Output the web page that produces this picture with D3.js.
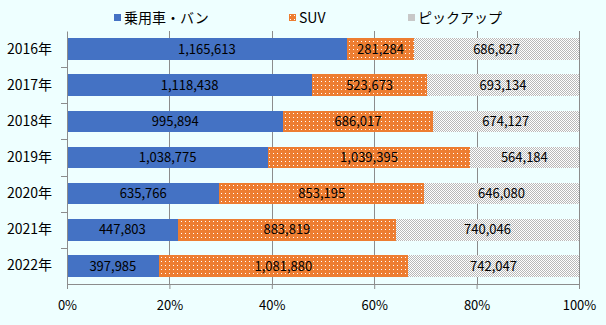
<!DOCTYPE html>
<html>
<head>
<meta charset="utf-8">
<script src="https://cdn.jsdelivr.net/npm/d3@7"></script>
<style>
  body { margin: 0; background: #eeffff; }
  svg text { font-family: "Noto Sans CJK JP", "Noto Sans", sans-serif; }
</style>
</head>
<body>
<svg id="chart"></svg>
<script>
// chart data
var years = ["2016年", "2017年", "2018年", "2019年", "2020年", "2021年", "2022年"];
var seriesNames = ["乗用車・バン", "SUV", "ピックアップ"];
var passenger = [1165613, 1118438, 995894, 1038775, 635766, 447803, 397985];
var suv = [281284, 523673, 686017, 1039395, 853195, 883819, 1081880];
var pickup = [686827, 693134, 674127, 564184, 646080, 740046, 742047];
var xTicks = [0, 0.2, 0.4, 0.6, 0.8, 1];

var width = 606, height = 325;
var margins = { top: 31, bottom: 41, left: 67, right: 27 };

var svg = d3.select("#chart")
  .attr("width", width)
  .attr("height", height);

svg.append("rect").attr("width", width).attr("height", height).attr("fill", "#eeffff");

var defs = svg.append("defs");

// SUV: orange with sparse white dots
var pSuv = defs.append("pattern").attr("id", "pSuv")
  .attr("width", 4).attr("height", 4).attr("patternUnits", "userSpaceOnUse");
pSuv.append("rect").attr("width", 4).attr("height", 4).attr("fill", "#ed7d31");
pSuv.append("rect").attr("x", 1).attr("y", 1).attr("width", 1).attr("height", 1).attr("fill", "#ffffff");

// pickup: grey checkerboard
var pPick = defs.append("pattern").attr("id", "pPick")
  .attr("width", 2).attr("height", 2).attr("patternUnits", "userSpaceOnUse");
pPick.append("rect").attr("width", 2).attr("height", 2).attr("fill", "#ffffff");
pPick.append("rect").attr("x", 0).attr("y", 0).attr("width", 1).attr("height", 1).attr("fill", "#b8b8b8");
pPick.append("rect").attr("x", 1).attr("y", 1).attr("width", 1).attr("height", 1).attr("fill", "#b8b8b8");

var fills = ["#4472c4", "url(#pSuv)", "url(#pPick)"];
var legendFills = ["#4472c4", "url(#pSuv)", "#c8c8c8"];

var xScale = d3.scaleLinear()
  .domain([0, 1])
  .range([margins.left, width - margins.right]);

var yScale = d3.scaleBand()
  .domain(years)
  .range([margins.top, height - margins.bottom])
  .paddingInner(0.4)
  .paddingOuter(0.2);

// gridlines
svg.append("g")
  .selectAll("line")
  .data(xTicks.slice(1))
  .enter()
  .append("line")
  .attr("x1", function(d){return Math.round(xScale(d)) + 0.5;})
  .attr("x2", function(d){return Math.round(xScale(d)) + 0.5;})
  .attr("y1", margins.top)
  .attr("y2", height - margins.bottom)
  .attr("stroke", "#8c8c8c")
  .attr("stroke-width", 1);

// stacked rows
var rows = years.map(function(y, i) {
  var vals = [passenger[i], suv[i], pickup[i]];
  var total = d3.sum(vals);
  var acc = 0;
  return vals.map(function(v, k) {
    var seg = { year: y, k: k, v: v, x0: acc / total, x1: (acc + v) / total };
    acc += v;
    return seg;
  });
});

var segs = svg.append("g")
  .selectAll("g")
  .data(rows)
  .enter()
  .append("g");

segs.selectAll("rect")
  .data(function(d){return d;})
  .enter()
  .append("rect")
  .attr("x", function(d){return xScale(d.x0);})
  .attr("width", function(d){return xScale(d.x1) - xScale(d.x0);})
  .attr("y", function(d){return yScale(d.year);})
  .attr("height", yScale.bandwidth())
  .attr("fill", function(d){return fills[d.k];})
  .attr("shape-rendering", "crispEdges");

segs.selectAll("text")
  .data(function(d){return d;})
  .enter()
  .append("text")
  .attr("x", function(d){return (xScale(d.x0) + xScale(d.x1)) / 2;})
  .attr("y", function(d){return yScale(d.year) + yScale.bandwidth() / 2;})
  .attr("dy", "0.36em")
  .attr("text-anchor", "middle")
  .attr("font-size", 13)
  .attr("fill", "#000")
  .text(function(d){return d3.format(",")(d.v);});

// axes
var xAxis = d3.axisBottom(xScale)
  .tickValues(xTicks)
  .tickFormat(d3.format(".0%"))
  .tickSize(5)
  .tickSizeOuter(0);

var gx = svg.append("g")
  .attr("transform", "translate(0," + (height - margins.bottom) + ")")
  .call(xAxis);
gx.selectAll("line, path").attr("stroke", "#8c8c8c");
gx.selectAll("text").attr("font-size", 13).attr("fill", "#000").attr("dy", "1.35em")
  .style("font-family", "'Noto Sans CJK JP', sans-serif");

var yAxis = d3.axisLeft(yScale).tickSize(0).tickSizeOuter(0).tickPadding(15);
var gy = svg.append("g")
  .attr("transform", "translate(" + margins.left + ",0)")
  .call(yAxis);
gy.select("path").attr("stroke", "#8c8c8c");
gy.selectAll("text").attr("font-size", 14).attr("fill", "#000")
  .style("font-family", "'Noto Sans CJK JP', sans-serif");

// category boundary ticks
var step = yScale.step();
var bounds = years.slice(1).map(function(y){return yScale(y) - step * 0.2;});
svg.append("g")
  .selectAll("line")
  .data(bounds)
  .enter()
  .append("line")
  .attr("x1", margins.left - 6)
  .attr("x2", margins.left)
  .attr("y1", function(d){return Math.round(d) + 0.5;})
  .attr("y2", function(d){return Math.round(d) + 0.5;})
  .attr("stroke", "#8c8c8c");

// legend
var legendX = [114, 289, 408];
var legend = svg.append("g")
  .selectAll("g")
  .data(seriesNames)
  .enter()
  .append("g")
  .attr("transform", function(d, i){return "translate(" + legendX[i] + ",14)";});

legend.append("rect")
  .attr("width", 7).attr("height", 7)
  .attr("fill", function(d, i){return legendFills[i];});

legend.append("text")
  .attr("x", 10)
  .attr("y", 4)
  .attr("dy", "0.36em")
  .attr("font-size", 14)
  .attr("fill", "#000")
  .text(function(d){return d;});
</script>
</body>
</html>
